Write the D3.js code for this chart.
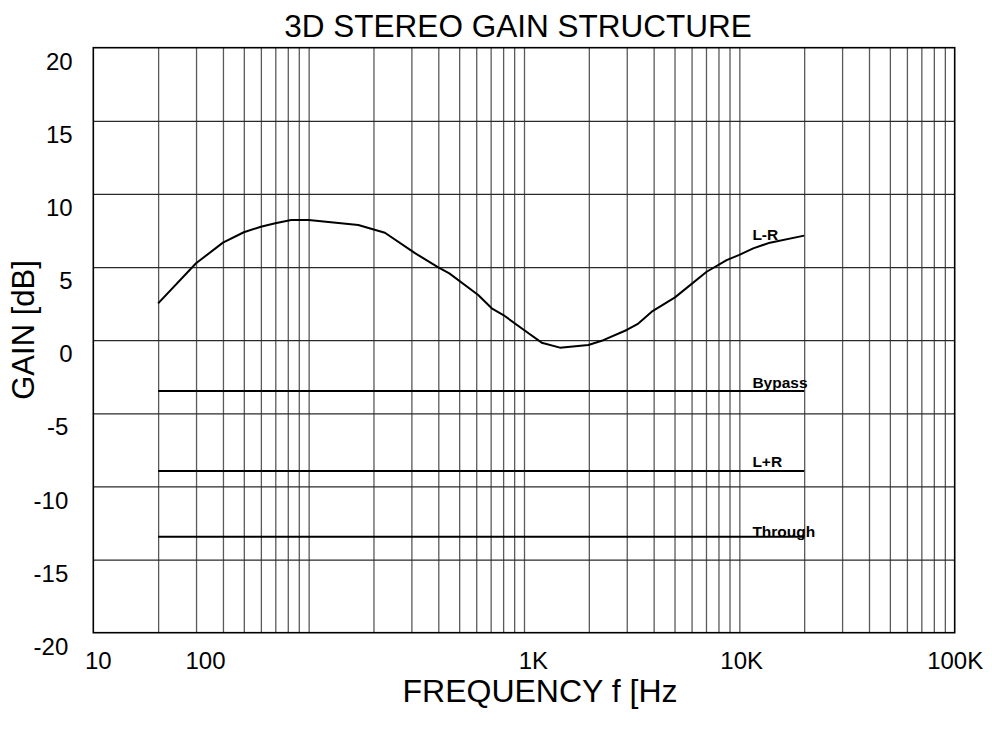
<!DOCTYPE html>
<html>
<head>
<meta charset="utf-8">
<script src="https://cdn.jsdelivr.net/npm/d3@7"></script>
<style>
  body { margin: 0; background: #fff; }
  svg { display: block; font-family: "Liberation Sans", Arial, sans-serif; }
</style>
</head>
<body>
<div id="chart"></div>
<script>
// Canvas size and plot margins
const width = 992;
const height = 733;
const margin = { top: 47.7, right: 37.3, bottom: 100.3, left: 93.3 };

// L-R response
const lrFreq = [20, 30, 40, 50, 60, 70, 83, 100, 170, 226, 313, 400, 450, 613, 708, 802,
                1000, 1208, 1469, 1990, 2335, 3000, 3395, 3920, 5025, 7050, 8730, 10000,
                11600, 13870, 20000];
const lrGain = [2.52, 5.26, 6.67, 7.38, 7.76, 7.99, 8.22, 8.22, 7.88, 7.35, 5.94, 4.98, 4.57, 3.09, 2.18, 1.72,
                0.70, -0.17, -0.51, -0.33, 0.0, 0.70, 1.14, 1.95, 2.93, 4.68, 5.48, 5.83,
                6.28, 6.67, 7.15];

// Flat responses
const flatFreq = [20, 20000];
const bypassGain = [-3.47, -3.47];
const sumGain = [-8.94, -8.94];
const throughGain = [-13.44, -13.44];

// Axis ticks and labels
const yTicks = [20, 15, 10, 5, 0, -5, -10, -15, -20];
const xTickLabels = ["10", "100", "1K", "10K", "100K"];
const xTickLabelFreqs = [10.5, 33, 1100, 10200, 100000];

const seriesNames = ["L-R", "Bypass", "L+R", "Through"];

// Scales
const xScale = d3.scaleLog()
    .domain([10, 100000])
    .range([margin.left, width - margin.right]);

const yScale = d3.scaleLinear()
    .domain([-20, 20])
    .range([height - margin.bottom, margin.top]);

const svg = d3.select("#chart")
    .append("svg")
    .attr("width", width)
    .attr("height", height)
    .attr("viewBox", `0 0 ${width} ${height}`);

// Vertical grid (log minors)
svg.append("g")
    .attr("transform", `translate(0, ${height - margin.bottom})`)
    .call(d3.axisBottom(xScale)
        .tickValues(xScale.ticks().filter(d => d > 10 && d < 100000))
        .tickSize(-(height - margin.top - margin.bottom))
        .tickFormat(""))
    .call(g => g.select(".domain").remove())
    .call(g => g.selectAll("line").attr("stroke", "#5a5a5a").attr("stroke-width", 1.3));

// Horizontal grid
svg.append("g")
    .attr("transform", `translate(${margin.left}, 0)`)
    .call(d3.axisLeft(yScale)
        .tickValues(yTicks.filter(d => d > -20 && d < 20))
        .tickSize(-(width - margin.left - margin.right))
        .tickFormat(""))
    .call(g => g.select(".domain").remove())
    .call(g => g.selectAll("line").attr("stroke", "#2a2a2a").attr("stroke-width", 1.2));

// Plot frame
svg.append("rect")
    .attr("x", margin.left)
    .attr("y", margin.top)
    .attr("width", width - margin.left - margin.right)
    .attr("height", height - margin.top - margin.bottom)
    .attr("fill", "none")
    .attr("stroke", "#000")
    .attr("stroke-width", 1.6);

// Curves
const line = d3.line()
    .x(d => xScale(d[0]))
    .y(d => yScale(d[1]));

const series = [
    d3.zip(lrFreq, lrGain),
    d3.zip(flatFreq, bypassGain),
    d3.zip(flatFreq, sumGain),
    d3.zip(flatFreq, throughGain)
];

svg.selectAll(".curve")
    .data(series)
    .enter()
    .append("path")
    .attr("class", "curve")
    .attr("fill", "none")
    .attr("stroke", "#000")
    .attr("stroke-width", 2)
    .attr("stroke-linejoin", "round")
    .attr("d", line);

// Series labels, placed near the right end of each curve
const labelDy = [4.5, -3, -3.5, 0.5];
svg.selectAll(".label")
    .data(series)
    .enter()
    .append("text")
    .attr("class", "label")
    .attr("x", xScale(11500))
    .attr("y", (d, i) => yScale(d[d.length - 1][1]) + labelDy[i])
    .attr("font-size", "15.5px")
    .attr("font-weight", "bold")
    .attr("fill", "#000")
    .text((d, i) => seriesNames[i]);

// Y tick labels (plain hyphen minus, as in the original)
svg.append("g")
    .attr("transform", `translate(${margin.left}, 0)`)
    .call(d3.axisLeft(yScale).tickValues(yTicks).tickSize(0).tickPadding(0).tickFormat(d => String(d)))
    .call(g => g.select(".domain").remove())
    .call(g => g.selectAll("text")
        .attr("font-family", "Liberation Sans, Arial, sans-serif")
        .attr("font-size", "24px")
        .attr("fill", "#000")
        .attr("dy", "0.9em")
        .attr("x", d => d < 0 ? -25 : -20.6));

// X tick labels
svg.append("g")
    .attr("transform", `translate(0, ${height - margin.bottom})`)
    .call(d3.axisBottom(xScale)
        .tickValues(xTickLabelFreqs)
        .tickFormat((d, i) => xTickLabels[i])
        .tickSize(0))
    .call(g => g.select(".domain").remove())
    .call(g => g.selectAll("text")
        .attr("font-family", "Liberation Sans, Arial, sans-serif")
        .attr("font-size", "24px")
        .attr("fill", "#000")
        .attr("dy", 0)
        .attr("y", 36));

// Title
svg.append("text")
    .attr("x", 518)
    .attr("y", 37)
    .attr("text-anchor", "middle")
    .attr("font-size", "31.5px")
    .attr("fill", "#000")
    .text("3D STEREO GAIN STRUCTURE");

// Axis titles
svg.append("text")
    .attr("x", 540)
    .attr("y", 702)
    .attr("text-anchor", "middle")
    .attr("font-size", "32px")
    .attr("fill", "#000")
    .text("FREQUENCY f [Hz");

svg.append("text")
    .attr("transform", "translate(34, 330) rotate(-90)")
    .attr("text-anchor", "middle")
    .attr("font-size", "31px")
    .attr("fill", "#000")
    .text("GAIN [dB]");
</script>
</body>
</html>
